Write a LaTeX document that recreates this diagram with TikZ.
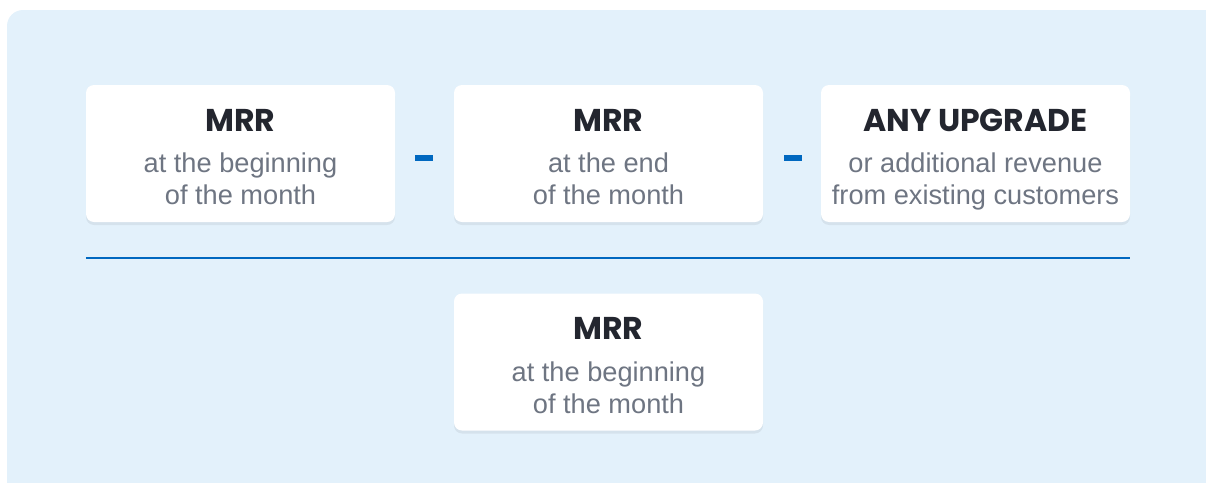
\documentclass[tikz,border=0pt]{standalone}
\usepackage{fontspec}
\setmainfont{Liberation Sans}
\newfontfamily\headfont{Poppins}
\usetikzlibrary{positioning,shadows}
\definecolor{mrrbg}{RGB}{227,241,251}
\definecolor{mrrblue}{RGB}{0,104,192}
\definecolor{mrrdark}{RGB}{35,38,47}
\definecolor{mrrgray}{RGB}{110,117,130}
\tikzset{
  card/.style={rounded corners=8pt, fill=white, minimum width=309pt, minimum height=137pt, inner sep=0pt,
    drop shadow={shadow xshift=0pt, shadow yshift=-3pt, opacity=0.06, fill=black}},
  head/.style={font=\headfont\bfseries\fontsize{31.5}{34}\selectfont, text=mrrdark, inner sep=0pt, anchor=base},
  sub/.style={font=\fontsize{27.2}{32}\selectfont, text=mrrgray, align=center, inner sep=0pt, anchor=base},
  minus/.style={fill=mrrblue, minimum width=18pt, minimum height=6pt, inner sep=0pt}
}
\begin{document}
\begin{tikzpicture}[x=1pt,y=-1pt]
  \useasboundingbox (0,0) rectangle (1206,482);
  % panel
  \fill[mrrbg, rounded corners=16pt] (7,10) rectangle (1222,500);
  % cards
  \node[card] (b1) at (240.5,153.5) {};
  \node[card] (b2) at (608.5,153.5) {};
  \node[card] (b3) at (975.5,153.5) {};
  \node[card] (b4) at (608.5,362) {};
  % texts
  \node[head] (h1) at ([yshift=-46.5pt]b1.north) {MRR};
  \node[sub] (s1) at ([yshift=-120pt]b1.north) {at the beginning\\of the month};
  \node[head] (h2) at ([yshift=-46.5pt]b2.north) {MRR};
  \node[sub] (s2) at ([yshift=-120pt]b2.north) {at the end\\of the month};
  \node[head] (h3) at ([yshift=-46.5pt]b3.north) {ANY UPGRADE};
  \node[sub] (s3) at ([yshift=-120pt]b3.north) {or additional revenue\\from existing customers};
  \node[head] (h4) at ([yshift=-46.5pt]b4.north) {MRR};
  \node[sub] (s4) at ([yshift=-120pt]b4.north) {at the beginning\\of the month};
  % minus signs
  \node[minus] (m1) at (424,158) {};
  \node[minus] (m2) at (793,158) {};
  % fraction bar
  \coordinate (bar) at (0,257.5);
  \draw[mrrblue, line width=2pt] (b1.west |- bar) -- (b3.east |- bar);
\end{tikzpicture}
\end{document}
